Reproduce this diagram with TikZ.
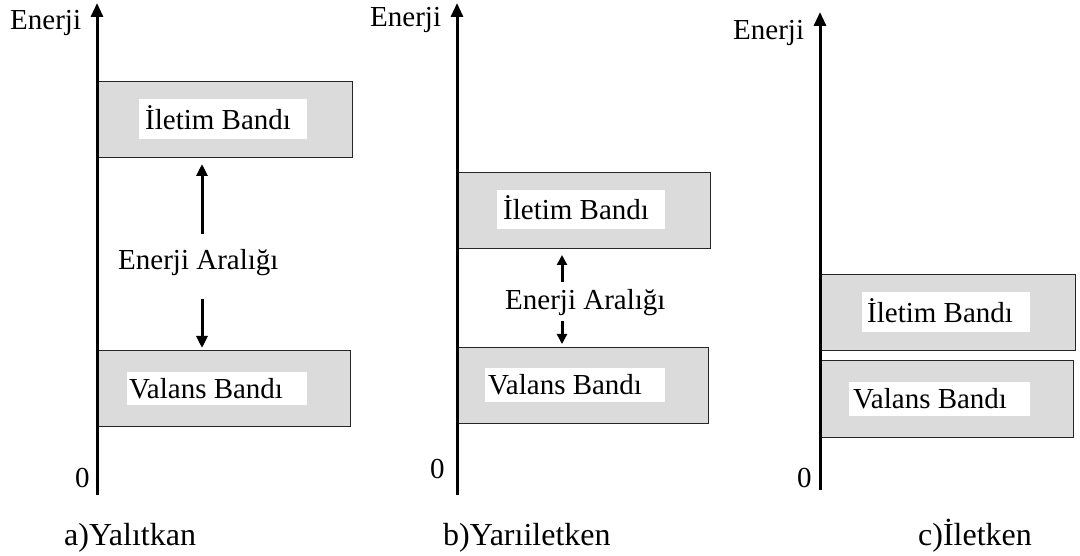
\documentclass[tikz,border=0pt]{standalone}
\usepackage{fontspec}
\setmainfont{Liberation Serif}
\usetikzlibrary{arrows.meta}
\tikzset{
  band/.style={draw=black!85, line width=1.2pt, fill=gray!28, minimum width=#1, minimum height=76pt, anchor=north west, inner sep=0pt},
  lblbox/.style={fill=white, draw=none, inner sep=0pt, anchor=north west},
  txt/.style={inner sep=0pt, anchor=base west, font=\fontsize{29}{32}\selectfont},
  captxt/.style={inner sep=0pt, anchor=base west, font=\fontsize{32}{35}\selectfont},
  axis/.style={line width=3pt, -{Triangle[length=14pt,width=12pt]}},
  gaparrow/.style={line width=3pt, -{Triangle[length=12pt,width=11pt]}},
  smallarrow/.style={line width=3pt, -{Triangle[length=10pt,width=10pt]}}
}
\begin{document}
\begin{tikzpicture}[x=1pt,y=-1pt]
\useasboundingbox (0,0) rectangle (1080,556);
% ---------- panel a ----------
\node[band=255pt] (ia) at (97,81) {};
\node[lblbox, minimum width=168pt, minimum height=40pt] (iab) at (139,99) {};
\node[txt] (iat) at (145,130) {İletim Bandı};
\node[band=253pt] (va) at (97,350) {};
\node[lblbox, minimum width=180pt, minimum height=33pt] (vab) at (127,372) {};
\node[txt] (vat) at (129,398) {Valans Bandı};
\coordinate (a0) at (97,495);
\coordinate (a1) at (97,3);
\draw[axis] (a0) -- (a1);
\node[txt] (ea) at (10,30) {Enerji};
\node[txt] (za) at (75,487) {0};
\node[txt] (ga) at (118,270) {Enerji Aralığı};
\coordinate (gau0) at (202,234);
\coordinate (gau1) at (202,164);
\coordinate (gad0) at (202,299);
\coordinate (gad1) at (202,348);
\draw[gaparrow] (gau0) -- (gau1);
\draw[gaparrow] (gad0) -- (gad1);
\node[captxt] (capa) at (64,545) {a)Yalıtkan};
% ---------- panel b ----------
\node[band=253pt] (ib) at (457,172) {};
\node[lblbox, minimum width=168pt, minimum height=39pt] (ibb) at (497,190) {};
\node[txt] (ibt) at (503,220) {İletim Bandı};
\node[band=251pt] (vb) at (457,347) {};
\node[lblbox, minimum width=180pt, minimum height=34pt] (vbb) at (485,368) {};
\node[txt] (vbt) at (488,395) {Valans Bandı};
\coordinate (b0) at (457,495);
\coordinate (b1) at (457,3);
\draw[axis] (b0) -- (b1);
\node[txt] (eb) at (370,27) {Enerji};
\node[txt] (zb) at (430,478) {0};
\node[txt] (gb) at (505,310) {Enerji Aralığı};
\coordinate (gbu0) at (562,282);
\coordinate (gbu1) at (562,255);
\coordinate (gbd0) at (562,321);
\coordinate (gbd1) at (562,344);
\draw[smallarrow] (gbu0) -- (gbu1);
\draw[smallarrow] (gbd0) -- (gbd1);
\node[captxt] (capb) at (443,545) {b)Yarıiletken};
% ---------- panel c ----------
\node[band=255pt] (ic) at (820,274) {};
\node[lblbox, minimum width=168pt, minimum height=40pt] (icb) at (862,292) {};
\node[txt] (ict) at (867,323) {İletim Bandı};
\node[band=253pt, minimum height=77pt] (vc) at (820,360) {};
\node[lblbox, minimum width=181pt, minimum height=34pt] (vcb) at (849,382) {};
\node[txt] (vct) at (853,408) {Valans Bandı};
\coordinate (c0) at (820,490);
\coordinate (c1) at (820,12);
\draw[axis] (c0) -- (c1);
\node[txt] (ec) at (733,40) {Enerji};
\node[txt] (zc) at (797,487) {0};
\node[captxt] (capc) at (918,545) {c)İletken};
\end{tikzpicture}
\end{document}
